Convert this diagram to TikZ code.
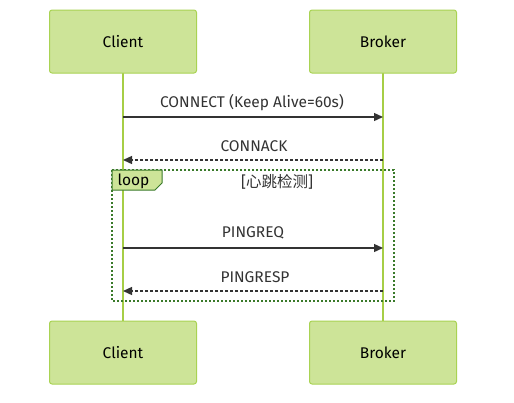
\documentclass[tikz,border=0pt]{standalone}
\usepackage{fontspec}
\setmainfont{Fira Sans}
\newfontfamily\cjk{Noto Sans CJK SC}
\usetikzlibrary{arrows.meta}
\definecolor{boxfill}{HTML}{CDE498}
\definecolor{boxline}{HTML}{A9D353}
\definecolor{lifeline}{HTML}{A6CE46}
\definecolor{loopline}{HTML}{3A7A2A}
\definecolor{txt}{HTML}{333333}
\definecolor{arr}{HTML}{333333}
\tikzset{
  actor/.style={draw=boxline, line width=1pt, fill=boxfill, rounded corners=2.5pt, minimum width=147pt, minimum height=63pt, inner sep=0pt, font=\fontsize{15.5}{18}\selectfont, text=black},
  life/.style={draw=lifeline, line width=1.5pt},
  msg/.style={draw=arr, line width=1.3pt, -{Triangle[length=9pt,width=8pt]}},
  reply/.style={draw=arr, line width=1.3pt, dash pattern=on 3pt off 2pt, -{Triangle[length=9pt,width=8pt]}},
  lbl/.style={font=\fontsize{15.5}{18}\selectfont, text=txt, inner sep=0pt},
  frame/.style={draw=loopline, line width=2pt, dash pattern=on 2pt off 2pt},
}
\begin{document}
\begin{tikzpicture}[x=1pt,y=-1pt]
\useasboundingbox[fill=white] (0,0) rectangle (514,402);
% lifelines
\coordinate (ct) at (123,73);
\coordinate (cb) at (123,321);
\coordinate (bt) at (383,73);
\coordinate (bb) at (383,321);
\draw[life] (ct) -- (cb);
\draw[life] (bt) -- (bb);
% loop frame
\draw[frame] (112,170) rectangle (394,301);
\fill[boxfill] (112,170) -- (162,170) -- (162,183) -- (155,190) -- (112,190) -- cycle;
\draw[loopline, line width=1pt] (112,170) -- (162,170) -- (162,183) -- (155,190) -- (112,190) -- cycle;
\node[lbl, text=black] (loop) at (133.5,181) {loop};
\node[lbl] (cond) at (277,182) {[{\cjk 心跳检测}]};
% actors
\node[actor] (c1) at (123,41.5) {Client};
\node[actor] (b1) at (383,41.5) {Broker};
\node[actor] (c2) at (123,352.5) {Client};
\node[actor] (b2) at (383,352.5) {Broker};
% messages
\coordinate (m1a) at (123,117);
\coordinate (m1b) at (383,117);
\draw[msg] (m1a) -- (m1b);
\node[lbl] (t1) at (252,103) {CONNECT (Keep Alive=60s)};
\coordinate (m2a) at (383,160);
\coordinate (m2b) at (123,160);
\draw[reply] (m2a) -- (m2b);
\node[lbl] (t2) at (254,146) {CONNACK};
\coordinate (m3a) at (123,248);
\coordinate (m3b) at (383,248);
\draw[msg] (m3a) -- (m3b);
\node[lbl] (t3) at (253,233) {PINGREQ};
\coordinate (m4a) at (383,291);
\coordinate (m4b) at (123,291);
\draw[reply] (m4a) -- (m4b);
\node[lbl] (t4) at (255,277) {PINGRESP};
\end{tikzpicture}
\end{document}
